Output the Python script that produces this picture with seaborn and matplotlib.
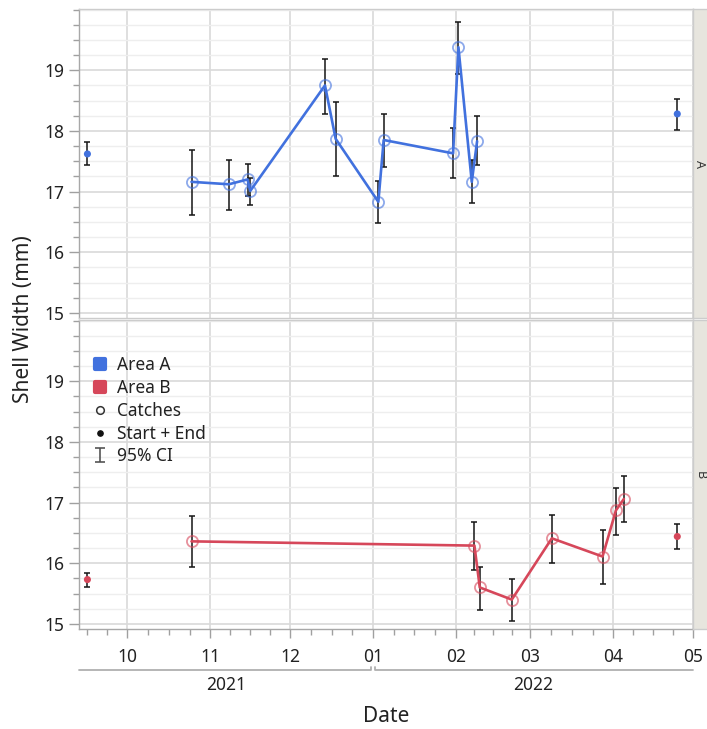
import numpy as np
import pandas as pd
import matplotlib
matplotlib.use("Agg")
import matplotlib.pyplot as plt
import matplotlib.dates as mdates
import matplotlib.transforms as mtrans
from matplotlib.lines import Line2D
from matplotlib.markers import MarkerStyle
from matplotlib.path import Path
from matplotlib.ticker import FixedLocator, MultipleLocator
import seaborn as sns

# ---------------- data ----------------
area_a_catch_dates = ["2021-10-25", "2021-11-08", "2021-11-15", "2021-11-16", "2021-12-14", "2021-12-18",
                      "2022-01-03", "2022-01-05", "2022-01-31", "2022-02-02", "2022-02-07", "2022-02-09"]
area_a_catch_mean = [17.16, 17.12, 17.20, 17.01, 18.75, 17.87, 16.83, 17.85, 17.63, 19.38, 17.16, 17.83]
area_a_catch_lo = [16.62, 16.70, 16.93, 16.78, 18.28, 17.26, 16.48, 17.41, 17.22, 18.93, 16.81, 17.43]
area_a_catch_hi = [17.68, 17.52, 17.46, 17.23, 19.19, 18.47, 17.17, 18.28, 18.04, 19.80, 17.52, 18.24]
area_a_se_dates = ["2021-09-16", "2022-04-25"]
area_a_se_mean = [17.62, 18.28]
area_a_se_lo = [17.44, 18.02]
area_a_se_hi = [17.81, 18.53]

area_b_catch_dates = ["2021-10-25", "2022-02-08", "2022-02-10", "2022-02-22", "2022-03-09", "2022-03-28",
                      "2022-04-02", "2022-04-05"]
area_b_catch_mean = [16.36, 16.29, 15.60, 15.40, 16.41, 16.11, 16.87, 17.06]
area_b_catch_lo = [15.93, 15.89, 15.23, 15.04, 16.01, 15.66, 16.46, 16.68]
area_b_catch_hi = [16.77, 16.68, 15.93, 15.74, 16.79, 16.54, 17.24, 17.43]
area_b_se_dates = ["2021-09-16", "2022-04-25"]
area_b_se_mean = [15.73, 16.44]
area_b_se_lo = [15.60, 16.23]
area_b_se_hi = [15.84, 16.65]

panel_labels = ["A", "B"]
legend_labels = ["Area A", "Area B", "Catches", "Start + End", "95% CI"]
y_ticks = [15, 16, 17, 18, 19]
x_start, x_end = "2021-09-12 23:00", "2022-05-01"

# ---------------- style ----------------
sns.set_theme(style="white")
plt.rcParams["font.family"] = ["Noto Sans", "DejaVu Sans"]
plt.rcParams["text.color"] = "#222222"
plt.rcParams["xtick.color"] = "#a0a0a0"
plt.rcParams["ytick.color"] = "#a0a0a0"
plt.rcParams["xtick.labelcolor"] = "#222222"
plt.rcParams["ytick.labelcolor"] = "#222222"

BLUE = "#4171DE"
RED = "#D6475A"

W, H = 707, 729
fig = plt.figure(figsize=(W / 100, H / 100), dpi=100)


def px_axes(x0, y0, x1, y1, **kw):
    return fig.add_axes([x0 / W, 1 - y1 / H, (x1 - x0) / W, (y1 - y0) / H], **kw)


ax_top = px_axes(79.3, 9, 693.3, 318.3)
ax_bot = px_axes(79.3, 320, 693.3, 629.3, sharex=ax_top)


def make_df(dates, mean, lo, hi):
    return pd.DataFrame({"date": pd.to_datetime(dates), "width": mean,
                         "lo": lo, "hi": hi})


panels = [
    (ax_top, BLUE, make_df(area_a_catch_dates, area_a_catch_mean, area_a_catch_lo, area_a_catch_hi),
     make_df(area_a_se_dates, area_a_se_mean, area_a_se_lo, area_a_se_hi)),
    (ax_bot, RED, make_df(area_b_catch_dates, area_b_catch_mean, area_b_catch_lo, area_b_catch_hi),
     make_df(area_b_se_dates, area_b_se_mean, area_b_se_lo, area_b_se_hi)),
]

xlim = (pd.Timestamp(x_start), pd.Timestamp(x_end))

for ax, col, cat, se in panels:
    rgb = matplotlib.colors.to_rgb(col)
    for d in (cat, se):
        ax.errorbar(d["date"], d["width"], yerr=[d["width"] - d["lo"], d["hi"] - d["width"]],
                    fmt="none", ecolor="#151515", elinewidth=1.1, capsize=2.3, capthick=1.1, zorder=2)
    sns.lineplot(data=cat, x="date", y="width", ax=ax, color=col, lw=1.9, errorbar=None,
                 marker="o", markersize=8, markerfacecolor="none",
                 markeredgecolor=(*rgb, 0.6), markeredgewidth=1.3, zorder=3)
    sns.scatterplot(data=se, x="date", y="width", ax=ax, color=col, s=26, edgecolor="none",
                    zorder=4)
    ax.set_ylim(14.91, 20.01)
    ax.set_xlim(*xlim)
    ax.yaxis.set_major_locator(FixedLocator(y_ticks))
    ax.yaxis.set_minor_locator(MultipleLocator(0.25))
    ax.grid(which="major", axis="both", color="#d9d9d9", lw=1.2, zorder=0)
    ax.grid(which="minor", axis="y", color="#eeeeee", lw=1.0, zorder=0)
    ax.set_axisbelow(True)
    ax.set_xlabel("")
    ax.set_ylabel("")
    ax.tick_params(axis="y", which="major", length=7.5, width=1, pad=3.5, labelsize=12.5, left=True)
    ax.tick_params(axis="y", which="minor", length=4.2, width=1, left=True)
    for s in ("top", "right", "bottom"):
        ax.spines[s].set_color("#cccccc")
        ax.spines[s].set_linewidth(1.0)
    ax.spines["left"].set_color("#a8a8a8")
    ax.spines["left"].set_linewidth(1.0)

# x ticks: month starts (major), quarter months (minor)
months = pd.date_range("2021-09-01", "2022-06-01", freq="MS")
minor = []
for m0, m1 in zip(months[:-1], months[1:]):
    for k in (1, 2, 3):
        minor.append(m0 + (m1 - m0) * k / 4)
minor = [t for t in minor if xlim[0] <= t <= xlim[1]]
ax_bot.xaxis.set_major_locator(mdates.MonthLocator())
ax_bot.xaxis.set_major_formatter(mdates.DateFormatter("%m"))
ax_bot.xaxis.set_minor_locator(FixedLocator(mdates.date2num(minor)))
ax_bot.tick_params(axis="x", which="major", length=6.7, width=1, pad=7, labelsize=12.5, bottom=True)
ax_bot.tick_params(axis="x", which="minor", length=4, width=1, bottom=True)
ax_bot.spines["bottom"].set_color("#a8a8a8")
ax_top.tick_params(axis="x", which="both", length=0, labelbottom=False)

# year brackets
trans = mtrans.blended_transform_factory(ax_bot.transData, fig.transFigure)
x0n, x1n = mdates.date2num(xlim[0]), mdates.date2num(xlim[1])
px_per_day = (693.3 - 79.3) / (x1n - x0n)
gap = 2.3 / px_per_day
years = [2021, 2022]
yb = 1 - 670 / H
yt = 1 - 666.5 / H
for i, yr in enumerate(years):
    a = max(mdates.date2num(pd.Timestamp(f"{yr}-01-01")), x0n)
    b = min(mdates.date2num(pd.Timestamp(f"{yr + 1}-01-01")), x1n)
    if i == 0:
        xs, ys = [a, b - gap, b - gap], [yb, yb, yt]
    else:
        xs, ys = [a + gap, a + gap, b], [yt, yb, yb]
    fig.add_artist(Line2D(xs, ys, transform=trans, color="#b0b0b0", lw=1.3))
    fig.text((a + b) / 2, 1 - 685 / H, str(yr), transform=trans, ha="center", va="center",
             fontsize=12.5)

fig.text(386 / W, 1 - 716 / H, "Date", ha="center", va="center", fontsize=15)
fig.text(24 / W, 1 - 319 / H, "Shell Width (mm)", rotation=90, ha="center", va="center", fontsize=15)

# panel strips
for (y0, y1), lab in zip([(9, 318.3), (320, 629.3)], panel_labels):
    sa = px_axes(693.3, y0, 712, y1)
    sa.set_facecolor("#E7E5DE")
    sa.set_xticks([])
    sa.set_yticks([])
    for s in sa.spines.values():
        s.set_color("#cccccc")
        s.set_linewidth(1.0)
    sa.text((699.8 - 693.3) / (712 - 693.3), 0.5, lab, rotation=-90, ha="center", va="center",
            fontsize=9, color="#333333", transform=sa.transAxes)

# legend
ci_path = Path([(-0.7, -1), (0.7, -1), (0, -1), (0, 1), (-0.7, 1), (0.7, 1)],
               [Path.MOVETO, Path.LINETO, Path.MOVETO, Path.LINETO, Path.MOVETO, Path.LINETO])
rsq = MarkerStyle("s", joinstyle="round")
handles = [
    Line2D([], [], ls="none", marker=rsq, ms=6.5, mfc=BLUE, mec=BLUE, mew=3),
    Line2D([], [], ls="none", marker=rsq, ms=6.5, mfc=RED, mec=RED, mew=3),
    Line2D([], [], ls="none", marker="o", ms=5.5, mfc="none", mec="#333333", mew=1.1),
    Line2D([], [], ls="none", marker="o", ms=3.8, mfc="#111111", mec="#111111"),
    Line2D([], [], ls="none", marker=ci_path, ms=9.5, mfc="none", mec="#555555", mew=1.2),
]
ax_bot.legend(handles, legend_labels, loc="upper left",
              bbox_to_anchor=((92 - 79.3) / 614, 1 - (356 - 320) / 309.3),
              frameon=False, borderpad=0, borderaxespad=0, handlelength=0.9,
              handletextpad=0.55, labelspacing=0.28, fontsize=12.5)

fig.savefig("out.png", dpi=100)
